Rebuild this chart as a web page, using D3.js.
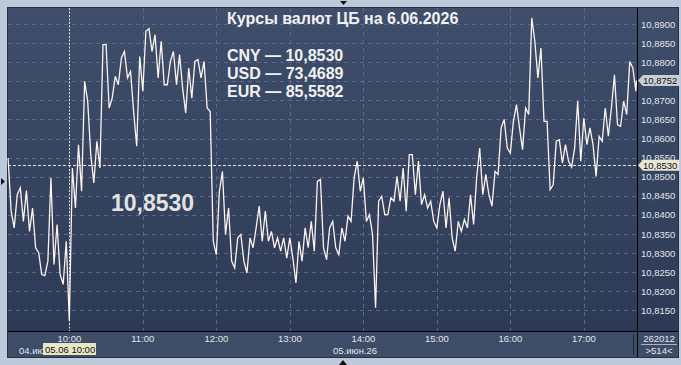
<!DOCTYPE html>
<html>
<head>
<meta charset="utf-8">
<script src="https://cdn.jsdelivr.net/npm/d3@7"></script>
<style>
body { margin: 0; background: #bccadb; }
svg { display: block; font-family: "Liberation Sans", Arial, sans-serif; }
</style>
</head>
<body>
<div id="chart"></div>
<script>
// ---------------------------------------------------------------------------
// Data: CNY/RUB, 5-minute buckets (high / low), 05.06.2026

var times = [
    "09:10","09:15","09:20","09:25","09:30","09:35","09:40","09:45","09:50","09:55",
    "10:00","10:05","10:10","10:15","10:20","10:25","10:30","10:35","10:40","10:45","10:50","10:55",
    "11:00","11:05","11:10","11:15","11:20","11:25","11:30","11:35","11:40","11:45","11:50","11:55",
    "12:00","12:05","12:10","12:15","12:20","12:25","12:30","12:35","12:40","12:45","12:50","12:55",
    "13:00","13:05","13:10","13:15","13:20","13:25","13:30","13:35","13:40","13:45","13:50","13:55",
    "14:00","14:05","14:10","14:15","14:20","14:25","14:30","14:35","14:40","14:45","14:50","14:55",
    "15:00","15:05","15:10","15:15","15:20","15:25","15:30","15:35","15:40","15:45","15:50","15:55",
    "16:00","16:05","16:10","16:15","16:20","16:25","16:30","16:35","16:40","16:45","16:50","16:55",
    "17:00","17:05","17:10","17:15","17:20","17:25","17:30","17:35","17:40"
];

var highs = [
    10.8549, 10.8453, 10.8471, 10.8464, 10.8418, 10.8301, 10.8279, 10.8497, 10.8375, 10.8331,
    10.8523, 10.8584, 10.8750, 10.8698, 10.8593, 10.8846, 10.8846, 10.8763, 10.8811, 10.8828, 10.8776, 10.8815,
    10.8881, 10.8888, 10.8872, 10.8855, 10.8802, 10.8828, 10.8820, 10.8785, 10.8802, 10.8807, 10.8802, 10.8671,
    10.8462, 10.8514, 10.8418, 10.8340, 10.8349, 10.8340, 10.8366, 10.8423, 10.8410, 10.8357, 10.8340, 10.8340,
    10.8340, 10.8331, 10.8366, 10.8383, 10.8488, 10.8493, 10.8366, 10.8383, 10.8366, 10.8397, 10.8497, 10.8541,
    10.8497, 10.8401, 10.8436, 10.8449, 10.8445, 10.8501, 10.8523, 10.8558, 10.8558, 10.8541, 10.8453, 10.8436,
    10.8427, 10.8462, 10.8445, 10.8383, 10.8388, 10.8453, 10.8497, 10.8575, 10.8506, 10.8514, 10.8628, 10.8650,
    10.8645, 10.8689, 10.8680, 10.8916, 10.8855, 10.8837, 10.8645, 10.8593, 10.8597, 10.8584, 10.8575, 10.8698,
    10.8654, 10.8628, 10.8606, 10.8680, 10.8680, 10.8767, 10.8698, 10.8802, 10.8785
];

var lows = [
    10.8410, 10.8366, 10.8383, 10.8357, 10.8314, 10.8244, 10.8241, 10.8270, 10.8244, 10.8218,
    10.8122, 10.8418, 10.8462, 10.8558, 10.8484, 10.8523, 10.8680, 10.8706, 10.8741, 10.8759, 10.8671, 10.8580,
    10.8724, 10.8828, 10.8759, 10.8741, 10.8741, 10.8741, 10.8732, 10.8667, 10.8706, 10.8759, 10.8680, 10.8331,
    10.8296, 10.8349, 10.8279, 10.8261, 10.8279, 10.8248, 10.8314, 10.8331, 10.8331, 10.8314, 10.8305, 10.8287,
    10.8287, 10.8222, 10.8279, 10.8314, 10.8305, 10.8314, 10.8283, 10.8314, 10.8296, 10.8331, 10.8383, 10.8462,
    10.8383, 10.8349, 10.8157, 10.8401, 10.8401, 10.8436, 10.8436, 10.8410, 10.8453, 10.8427, 10.8418, 10.8383,
    10.8366, 10.8366, 10.8340, 10.8305, 10.8357, 10.8366, 10.8375, 10.8453, 10.8453, 10.8423, 10.8506, 10.8575,
    10.8562, 10.8628, 10.8571, 10.8663, 10.8759, 10.8645, 10.8466, 10.8479, 10.8536, 10.8541, 10.8525, 10.8541,
    10.8584, 10.8584, 10.8501, 10.8593, 10.8606, 10.8636, 10.8632, 10.8663, 10.8724
];

var lastTime = "17:43";
var lastPrice = 10.8752;
var cbRate = 10.8530;

var yTicks = [10.815, 10.820, 10.825, 10.830, 10.835, 10.840, 10.845, 10.850,
              10.855, 10.860, 10.865, 10.870, 10.875, 10.880, 10.885, 10.890];
var xTicks = ["10:00", "11:00", "12:00", "13:00", "14:00", "15:00", "16:00", "17:00"];
var dayStart = "10:00";

var title = "Курсы валют ЦБ на 6.06.2026";
var rates = ["CNY — 10,8530", "USD — 73,4689", "EUR — 85,5582"];

//////////////////////////////////////////////////////////////////////////////
// Preliminaries

var width = 681, height = 365;
var pLeft = 8, pRight = 637, pTop = 8, pBottom = 331, axisBottom = 357, panelRight = 678;

var parseT = d3.timeParse("%Y-%m-%d %H:%M:%S");
function t(s) { return parseT("2026-06-05 " + (s.length == 5 ? s + ":00" : s)); }

var xScale = d3.scaleTime()
    .domain([t("09:09:57"), t("17:43:24")])
    .range([pLeft, pRight]);
var yScale = d3.scaleLinear()
    .domain([10.8096, 10.8942])
    .range([pBottom, pTop]);

var fmt = function(v) { return d3.format(".4f")(v).replace(".", ","); };

var svg = d3.select("#chart").append("svg")
    .attr("width", width)
    .attr("height", height);

var defs = svg.append("defs");
var grad = defs.append("linearGradient")
    .attr("id", "bg").attr("x1", 0).attr("y1", 0).attr("x2", 0).attr("y2", 1);
grad.append("stop").attr("offset", "0%").attr("stop-color", "#3f4e6a");
grad.append("stop").attr("offset", "100%").attr("stop-color", "#2c3a56");

svg.append("rect").attr("width", width).attr("height", height).attr("fill", "#bccadb");

// panel
svg.append("rect")
    .attr("x", pLeft - 0.5).attr("y", pTop - 0.5)
    .attr("width", panelRight - pLeft + 1).attr("height", axisBottom - pTop + 1)
    .attr("fill", "#3d4c67").attr("stroke", "#26303f");
svg.append("rect")
    .attr("x", pLeft).attr("y", pTop)
    .attr("width", panelRight - pLeft).attr("height", pBottom - pTop)
    .attr("fill", "url(#bg)");

//////////////////////////////////////////////////////////////////////////////
// Grid

svg.append("g").selectAll("line")
    .data(yTicks)
    .enter().append("line")
    .attr("x1", pLeft).attr("x2", pRight)
    .attr("y1", function(d) { return Math.round(yScale(d)) + 0.5; })
    .attr("y2", function(d) { return Math.round(yScale(d)) + 0.5; })
    .attr("stroke", "#5a6a88")
    .attr("stroke-dasharray", "4,4");

svg.append("g").selectAll("line")
    .data(xTicks.filter(function(d) { return d != dayStart; }))
    .enter().append("line")
    .attr("y1", pTop).attr("y2", pBottom)
    .attr("x1", function(d) { return Math.round(xScale(t(d))) + 0.5; })
    .attr("x2", function(d) { return Math.round(xScale(t(d))) + 0.5; })
    .attr("stroke", "#5a6a88")
    .attr("stroke-dasharray", "4,4");

// day separator
svg.append("line")
    .attr("x1", Math.round(xScale(t(dayStart))) + 0.5)
    .attr("x2", Math.round(xScale(t(dayStart))) + 0.5)
    .attr("y1", pTop).attr("y2", pBottom)
    .attr("stroke", "#e6e6e6")
    .attr("stroke-dasharray", "2,1.5");

// CB rate line
svg.append("line")
    .attr("x1", pLeft).attr("x2", pRight)
    .attr("y1", Math.round(yScale(cbRate)) + 0.5)
    .attr("y2", Math.round(yScale(cbRate)) + 0.5)
    .attr("stroke", "#ecebe4")
    .attr("stroke-dasharray", "3,2");

//////////////////////////////////////////////////////////////////////////////
// Price: each bucket zig-zags low->high (or high->low)

var pts = [];
for (var i = 0; i < times.length; i++) {
    var mid = (highs[i] + lows[i]) / 2;
    var nextMid = i + 1 < times.length ? (highs[i + 1] + lows[i + 1]) / 2 : lastPrice;
    var x0 = xScale(t(times[i]));
    var x1 = xScale(new Date(t(times[i]).getTime() + 150000));
    if (nextMid > mid) {
        pts.push([x0, yScale(lows[i])]);
        pts.push([x1, yScale(highs[i])]);
    } else {
        pts.push([x0, yScale(highs[i])]);
        pts.push([x1, yScale(lows[i])]);
    }
}
pts.push([xScale(t(lastTime)), yScale(lastPrice)]);

svg.append("path")
    .attr("d", d3.line()(pts))
    .attr("fill", "none")
    .attr("stroke", "#fff3ee")
    .attr("stroke-width", 1.3)
    .attr("stroke-linejoin", "miter");

//////////////////////////////////////////////////////////////////////////////
// Frames

svg.append("line")
    .attr("x1", pLeft).attr("x2", panelRight)
    .attr("y1", pBottom + 0.5).attr("y2", pBottom + 0.5)
    .attr("stroke", "#000");
svg.append("line")
    .attr("x1", pRight + 0.5).attr("x2", pRight + 0.5)
    .attr("y1", pTop).attr("y2", axisBottom)
    .attr("stroke", "#000");
svg.append("line")
    .attr("x1", pRight - 3.5).attr("x2", pRight - 3.5)
    .attr("y1", pBottom + 3).attr("y2", axisBottom - 2)
    .attr("stroke", "#222a38");

//////////////////////////////////////////////////////////////////////////////
// Axes labels

svg.append("g").selectAll("text")
    .data(yTicks)
    .enter().append("text")
    .attr("x", pRight + 4)
    .attr("y", function(d) { return yScale(d) + 3.5; })
    .attr("font-size", 9.5)
    .attr("fill", "#e2e6ee")
    .text(fmt);

svg.append("g").selectAll("text")
    .data(xTicks)
    .enter().append("text")
    .attr("x", function(d) { return xScale(t(d)); })
    .attr("y", 341.5)
    .attr("text-anchor", "middle")
    .attr("font-size", 9.5)
    .attr("fill", "#e2e6ee")
    .text(function(d) { return d; });

svg.append("text")
    .attr("x", 19).attr("y", 353.5)
    .attr("font-size", 9.5).attr("fill", "#e2e6ee")
    .text("04.июн.26");
svg.append("text")
    .attr("x", 333).attr("y", 353.5)
    .attr("font-size", 9.5).attr("fill", "#e2e6ee")
    .text("05.июн.26");

svg.append("rect")
    .attr("x", 43).attr("y", 343).attr("width", 53).attr("height", 12)
    .attr("fill", "#e8e5c6");
svg.append("text")
    .attr("x", 45).attr("y", 352.8)
    .attr("font-size", 9.5).attr("fill", "#111")
    .text("05.06 10:00");

svg.append("text")
    .attr("x", 659).attr("y", 341.5)
    .attr("text-anchor", "middle")
    .attr("font-size", 9.5).attr("fill", "#e2e6ee")
    .text("262012");
svg.append("line")
    .attr("x1", 641).attr("x2", 677)
    .attr("y1", 344.5).attr("y2", 344.5)
    .attr("stroke", "#aab4c4");
svg.append("text")
    .attr("x", 659).attr("y", 354)
    .attr("text-anchor", "middle")
    .attr("font-size", 9.5).attr("fill", "#e2e6ee")
    .text(">514<");

// price tags on the right axis
function priceTag(v, fill) {
    var y = yScale(v);
    svg.append("path")
        .attr("d", "M" + (pRight + 1) + "," + y + "L" + (pRight + 6) + "," + (y - 5.5) +
            "L" + (panelRight + 1) + "," + (y - 5.5) + "L" + (panelRight + 1) + "," + (y + 5.5) +
            "L" + (pRight + 6) + "," + (y + 5.5) + "Z")
        .attr("fill", fill);
    svg.append("text")
        .attr("x", pRight + 6).attr("y", y + 3.5)
        .attr("font-size", 9.5).attr("fill", "#111")
        .text(fmt(v));
}
priceTag(lastPrice, "#c9ced6");
priceTag(cbRate, "#e9e7d4");

//////////////////////////////////////////////////////////////////////////////
// Titles

svg.append("text")
    .attr("x", 227).attr("y", 24)
    .attr("font-size", 16).attr("font-weight", "bold").attr("fill", "#f2f2f2")
    .text(title);

svg.append("g").selectAll("text")
    .data(rates)
    .enter().append("text")
    .attr("x", 227)
    .attr("y", function(d, i) { return 61 + i * 18; })
    .attr("font-size", 16).attr("font-weight", "bold").attr("fill", "#f2f2f2")
    .text(function(d) { return d; });

svg.append("text")
    .attr("x", 111).attr("y", 211)
    .attr("font-size", 23).attr("font-weight", "bold").attr("fill", "#e2e2e2")
    .text(fmt(cbRate));

// markers
svg.append("path").attr("d", "M340,1L347,1L343.5,5Z").attr("fill", "#111");
svg.append("path").attr("d", "M339,365L347,365L343,360Z").attr("fill", "#111");
svg.append("path").attr("d", "M1,178L1,185L5,181.5Z").attr("fill", "#111");
</script>
</body>
</html>
